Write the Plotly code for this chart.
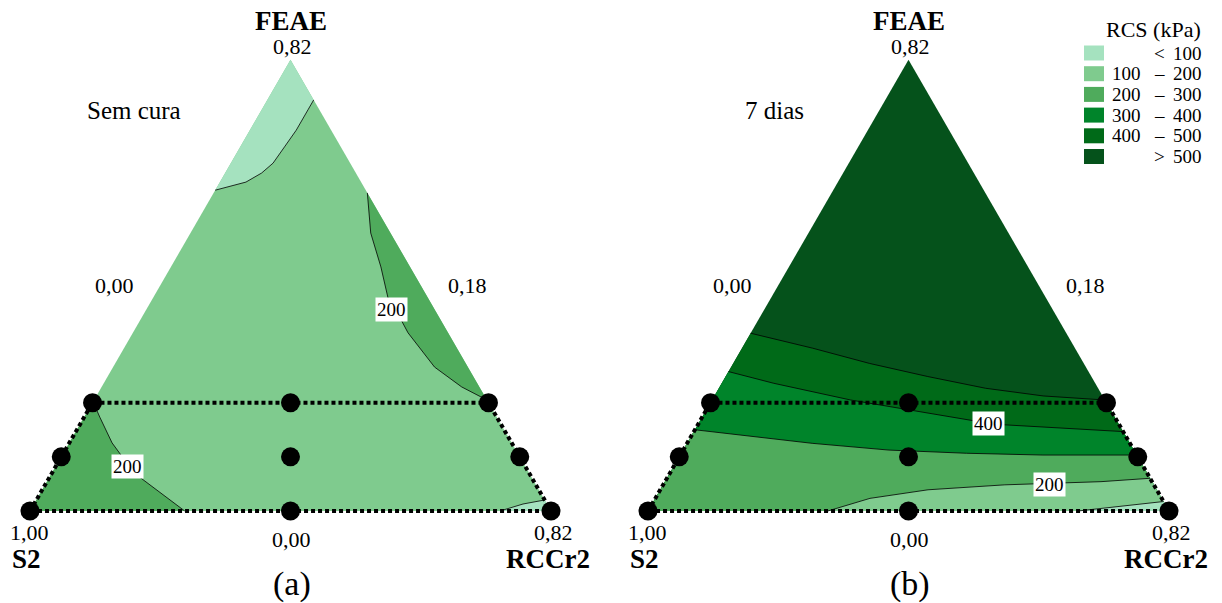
import math
import plotly.graph_objects as go

FONT = "Liberation Serif"
W, H = 1222, 603

# ---------------- data ----------------
# Legend classes of RCS (kPa)
LEG_LEFT = ["", "100", "200", "300", "400", ""]
LEG_MID = ["<", "–", "–", "–", "–", ">"]
LEG_RIGHT = ["100", "200", "300", "400", "500", "500"]
CLASS_COLORS = ["#a5e2bf", "#7fcb8e", "#4fab5c", "#00842a", "#006a18", "#05521b"]

# Experimental design points (pseudo-component fractions FEAE / RCCr2; S2 = rest)
# first 8 are on the boundary of the constrained region (in order), last is the centroid
PTS_FEAE = [0.00, 0.12, 0.24, 0.24, 0.24, 0.12, 0.00, 0.00, 0.12]
PTS_RCCR2 = [0.00, 0.00, 0.00, 0.38, 0.76, 0.88, 1.00, 0.50, 0.44]

# (a) Sem cura - contour lines
A_C100_TOP_FEAE = [0.711, 0.729, 0.749, 0.771, 0.807, 0.844, 0.889, 0.911]
A_C100_TOP_RCCR2 = [0.000, 0.050, 0.070, 0.081, 0.085, 0.089, 0.089, 0.089]
A_C200_R_FEAE = [0.705, 0.616, 0.541, 0.468, 0.446, 0.395, 0.319, 0.275, 0.246]
A_C200_R_RCCR2 = [0.295, 0.346, 0.403, 0.454, 0.479, 0.528, 0.617, 0.691, 0.754]
A_C200_L_FEAE = [0.242, 0.208, 0.151, 0.106, 0.075, 0.040, 0.000]
A_C200_L_RCCR2 = [0.000, 0.030, 0.082, 0.133, 0.173, 0.230, 0.297]
A_C100_BR_FEAE = [0.000, 0.0155, 0.0244]
A_C100_BR_RCCR2 = [0.902, 0.9385, 0.9756]
A_LABEL_TEXT = ["200", "200"]
A_LABEL_FEAE = [0.4455, 0.0997]
A_LABEL_RCCR2 = [0.472, 0.138]

# (b) 7 dias - contour lines
B_C500_FEAE = [0.394, 0.361, 0.327, 0.298, 0.272, 0.255, 0.246]
B_C500_RCCR2 = [0.000, 0.135, 0.262, 0.388, 0.512, 0.631, 0.754]
B_C400_FEAE = [0.309, 0.283, 0.246, 0.217, 0.200, 0.191, 0.183, 0.176]
B_C400_RCCR2 = [0.000, 0.100, 0.266, 0.429, 0.525, 0.589, 0.704, 0.824]
B_C300_FEAE = [0.180, 0.165, 0.150, 0.135, 0.128, 0.124, 0.124]
B_C300_RCCR2 = [0.000, 0.122, 0.240, 0.395, 0.547, 0.696, 0.876]
B_C200_FEAE = [0.000, 0.028, 0.047, 0.058, 0.065, 0.0725]
B_C200_RCCR2 = [0.345, 0.412, 0.514, 0.656, 0.837, 0.9275]
B_C100_FEAE = [0.000, 0.010, 0.021]
B_C100_RCCR2 = [0.825, 0.905, 0.979]
B_LABEL_TEXT = ["400", "200"]
B_LABEL_FEAE = [0.195, 0.0587]
B_LABEL_RCCR2 = [0.557, 0.742]

# vertex tick labels
TOP_TICK = "0,82"
LEFT_TICK = "0,00"
RIGHT_TICK = "0,18"
BL_TICK = "1,00"
BOTTOM_TICK = "0,00"
BR_TICK = "0,82"

S3 = math.sqrt(3) / 2


def to_xy(feae, rccr2):
    xs = [c + a / 2 for a, c in zip(feae, rccr2)]
    ys = [a * S3 for a in feae]
    return xs, ys


APEX = ([1.0], [0.0])
BL = ([0.0], [0.0])
BR = ([0.0], [1.0])

fig = go.Figure()


def fill(ax, feae, rccr2, color):
    x, y = to_xy(feae, rccr2)
    fig.add_trace(go.Scatter(x=x + [x[0]], y=y + [y[0]], mode="lines", fill="toself",
                             fillcolor=color, line=dict(width=0), hoverinfo="skip",
                             showlegend=False, xaxis=ax[0], yaxis=ax[1]))


def cline(ax, feae, rccr2):
    x, y = to_xy(feae, rccr2)
    fig.add_trace(go.Scatter(x=x, y=y, mode="lines", line=dict(color="black", width=0.8),
                             hoverinfo="skip", showlegend=False, xaxis=ax[0], yaxis=ax[1]))


AXA = ("x", "y")
AXB = ("x2", "y2")

# ---- panel (a)
fill(AXA, APEX[0] + BL[0] + BR[0], APEX[1] + BL[1] + BR[1], CLASS_COLORS[1])
fill(AXA, A_C100_TOP_FEAE + APEX[0], A_C100_TOP_RCCR2 + APEX[1], CLASS_COLORS[0])
fill(AXA, A_C200_R_FEAE, A_C200_R_RCCR2, CLASS_COLORS[2])
fill(AXA, A_C200_L_FEAE + BL[0], A_C200_L_RCCR2 + BL[1], CLASS_COLORS[2])
fill(AXA, A_C100_BR_FEAE + BR[0], A_C100_BR_RCCR2 + BR[1], CLASS_COLORS[0])
for f, c in [(A_C100_TOP_FEAE, A_C100_TOP_RCCR2), (A_C200_R_FEAE, A_C200_R_RCCR2),
             (A_C200_L_FEAE, A_C200_L_RCCR2), (A_C100_BR_FEAE, A_C100_BR_RCCR2)]:
    cline(AXA, f, c)

# ---- panel (b)
fill(AXB, APEX[0] + BL[0] + BR[0], APEX[1] + BL[1] + BR[1], CLASS_COLORS[5])
fill(AXB, B_C500_FEAE + BR[0] + BL[0], B_C500_RCCR2 + BR[1] + BL[1], CLASS_COLORS[4])
fill(AXB, B_C400_FEAE + BR[0] + BL[0], B_C400_RCCR2 + BR[1] + BL[1], CLASS_COLORS[3])
fill(AXB, B_C300_FEAE + BR[0] + BL[0], B_C300_RCCR2 + BR[1] + BL[1], CLASS_COLORS[2])
fill(AXB, B_C200_FEAE + BR[0], B_C200_RCCR2 + BR[1], CLASS_COLORS[1])
fill(AXB, B_C100_FEAE + BR[0], B_C100_RCCR2 + BR[1], CLASS_COLORS[0])
for f, c in [(B_C500_FEAE, B_C500_RCCR2), (B_C400_FEAE, B_C400_RCCR2),
             (B_C300_FEAE, B_C300_RCCR2), (B_C200_FEAE, B_C200_RCCR2),
             (B_C100_FEAE, B_C100_RCCR2)]:
    cline(AXB, f, c)

# ---- design region outline and points
for ax in (AXA, AXB):
    bx, by = to_xy(PTS_FEAE[:8] + PTS_FEAE[:1], PTS_RCCR2[:8] + PTS_RCCR2[:1])
    fig.add_trace(go.Scatter(x=bx, y=by, mode="lines",
                             line=dict(color="black", width=4, dash="4px,3px"),
                             hoverinfo="skip", showlegend=False, xaxis=ax[0], yaxis=ax[1]))
    px_, py_ = to_xy(PTS_FEAE, PTS_RCCR2)
    fig.add_trace(go.Scatter(x=px_, y=py_, mode="markers",
                             marker=dict(color="black", size=19, line=dict(width=0)),
                             hoverinfo="skip", showlegend=False, xaxis=ax[0], yaxis=ax[1]))

annotations = []


def lab_ann(ax, texts, feae, rccr2):
    x, y = to_xy(feae, rccr2)
    for t, xi, yi in zip(texts, x, y):
        annotations.append(dict(text=t, x=xi, y=yi, xref=ax[0], yref=ax[1],
                                showarrow=False, bgcolor="white", borderpad=1,
                                font=dict(family=FONT, size=19, color="black")))


lab_ann(AXA, A_LABEL_TEXT, A_LABEL_FEAE, A_LABEL_RCCR2)
lab_ann(AXB, B_LABEL_TEXT, B_LABEL_FEAE, B_LABEL_RCCR2)


def ptext(text, px, py, size, bold=False, xanchor="center"):
    if bold:
        text = "<b>" + text + "</b>"
    annotations.append(dict(text=text, x=px / W, y=1 - py / H,
                            xref="paper", yref="paper",
                            xanchor=xanchor, yanchor="middle", showarrow=False,
                            font=dict(family=FONT, size=size, color="black")))


for dx, sub in [(0, "(a)"), (618, "(b)")]:
    ptext("FEAE", 291 + dx, 21, 27, bold=True)
    ptext(TOP_TICK, 292 + dx, 47, 22)
    ptext(LEFT_TICK, 114 + dx, 285, 22)
    ptext(RIGHT_TICK, 467 + dx, 285, 22)
    ptext(BL_TICK, 29 + dx, 532, 22)
    ptext(BOTTOM_TICK, 291 + dx, 539, 22)
    ptext(BR_TICK, 553 + dx, 532, 22)
    ptext("S2", 26 + dx, 559, 27, bold=True)
    ptext("RCCr2", 548 + dx, 559, 27, bold=True)
    ptext(sub, 292 + dx, 584, 34)
ptext("Sem cura", 134, 110, 25)
ptext("7 dias", 775, 110, 25)

# ---- legend
shapes = []
ptext("RCS (kPa)", 1153, 29, 22)
for i, col in enumerate(CLASS_COLORS):
    cy = 53 + i * 20.7
    shapes.append(dict(type="rect", xref="paper", yref="paper",
                       x0=1084 / W, x1=1104 / W,
                       y0=1 - (cy + 7.5) / H, y1=1 - (cy - 7.5) / H,
                       fillcolor=col, line=dict(width=0)))
    if LEG_LEFT[i]:
        ptext(LEG_LEFT[i], 1143, cy, 19, xanchor="right")
    ptext(LEG_MID[i], 1159, cy, 19)
    ptext(LEG_RIGHT[i], 1204, cy, 19, xanchor="right")

SC = 521.0
SPLIT = 0.5 * W
fig.update_layout(
    width=W, height=H, margin=dict(l=0, r=0, t=0, b=0),
    paper_bgcolor="white", plot_bgcolor="white",
    xaxis=dict(domain=[0, 0.5], range=[(0 - 30) / SC, (SPLIT - 30) / SC],
               visible=False, fixedrange=True),
    yaxis=dict(domain=[0, 1], range=[(511 - H) / SC, 511 / SC],
               visible=False, fixedrange=True),
    xaxis2=dict(domain=[0.5, 1], range=[(SPLIT - 648) / SC, (W - 648) / SC],
                visible=False, fixedrange=True),
    yaxis2=dict(domain=[0, 1], anchor="x2", range=[(511 - H) / SC, 511 / SC],
                visible=False, fixedrange=True),
    annotations=annotations, shapes=shapes, showlegend=False,
)

fig.write_html("out.html", config={"displayModeBar": False},
               post_script="document.body.style.margin='0px';document.body.style.overflow='hidden';")
